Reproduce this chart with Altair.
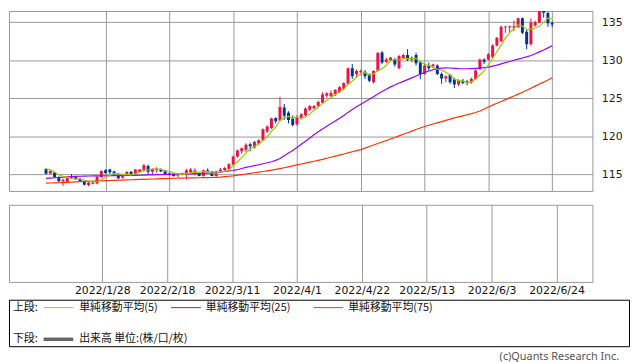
import altair as alt
import pandas as pd

# ---- data (USD/JPY daily candles) ----
dates = [f"{d.year}/{d.month}/{d.day}" for d in pd.bdate_range("2022-01-10", "2022-06-24")]

opens = [115.72, 115.10, 115.25, 114.65, 114.10, 114.05, 114.80, 114.65, 114.40, 114.10,
         113.60, 113.95, 113.80, 114.65, 115.55, 115.65, 115.40, 114.90, 114.55, 114.90,
         115.35, 115.10, 115.35, 115.55, 116.10, 115.35, 115.55, 115.65, 115.50, 114.95,
         115.10, 114.85, 115.05, 115.00, 115.25, 115.22, 115.20, 114.80, 115.55, 115.35,
         114.80, 115.40, 115.55, 115.70, 116.30, 117.35, 118.05, 118.25, 118.95, 118.55,
         119.05, 119.50, 120.65, 121.10, 122.40, 122.10, 123.80, 123.10, 122.35, 121.60,
         122.40, 122.80, 123.50, 123.70, 124.00, 124.40, 125.35, 125.30, 125.50, 125.80,
         126.25, 126.90, 128.95, 128.20, 128.45, 128.50, 128.10, 127.10, 128.60, 131.00,
         129.80, 130.00, 130.10, 128.95, 130.30, 130.70, 130.05, 130.70, 129.70, 128.20,
         129.35, 129.20, 129.30, 128.20, 127.60, 128.05, 127.50, 126.80, 127.30, 127.20,
         127.10, 127.50, 128.85, 130.10, 130.10, 130.40, 131.95, 132.50, 134.30, 134.35,
         134.30, 134.35, 135.50, 133.75, 132.10, 134.55, 134.95, 136.55, 136.20, 134.90]

highs = [115.80, 115.55, 115.30, 114.75, 114.45, 114.65, 115.05, 114.80, 114.55, 114.20,
         114.05, 114.05, 114.80, 115.55, 115.70, 115.75, 115.50, 115.00, 114.90, 115.40,
         115.45, 115.70, 115.70, 116.35, 116.30, 115.80, 115.95, 115.80, 115.55, 115.25,
         115.15, 115.20, 115.20, 115.75, 115.85, 115.80, 115.30, 115.65, 115.80, 115.45,
         115.50, 115.85, 116.00, 116.50, 117.45, 118.25, 118.55, 119.10, 119.15, 119.40,
         119.60, 121.05, 121.45, 122.45, 122.50, 125.20, 124.25, 123.30, 122.75, 122.80,
         123.05, 123.80, 124.10, 124.10, 124.70, 125.80, 125.80, 126.05, 126.20, 126.60,
         127.10, 129.05, 129.50, 128.80, 128.80, 128.70, 128.25, 128.70, 131.10, 131.20,
         130.30, 130.40, 130.30, 130.70, 130.85, 131.45, 130.50, 131.00, 129.90, 129.55,
         129.70, 129.55, 129.45, 128.40, 128.00, 128.20, 127.70, 127.50, 127.55, 127.40,
         127.70, 128.80, 130.20, 130.25, 130.95, 132.10, 133.05, 134.55, 134.55, 134.55,
         135.20, 135.60, 135.60, 134.10, 135.50, 135.20, 136.70, 136.70, 136.35, 135.10]

lows = [115.00, 115.05, 114.55, 113.95, 113.50, 113.95, 114.40, 114.30, 114.00, 113.55,
        113.45, 113.70, 113.70, 114.55, 115.10, 115.05, 114.90, 114.40, 114.45, 114.80,
        114.95, 115.00, 115.25, 115.35, 114.98, 115.00, 115.25, 115.30, 114.90, 114.80,
        114.70, 114.65, 114.90, 114.35, 115.15, 114.85, 114.75, 114.70, 115.30, 114.75,
        114.70, 115.30, 115.40, 115.55, 116.20, 117.20, 117.70, 117.95, 118.05, 118.40,
        118.85, 119.40, 120.45, 120.95, 121.70, 122.00, 122.15, 121.70, 121.30, 121.40,
        122.20, 122.60, 123.30, 123.50, 123.85, 124.30, 125.10, 124.95, 125.30, 125.70,
        126.10, 126.80, 127.55, 127.70, 128.00, 127.55, 127.10, 126.95, 128.50, 129.50,
        129.60, 129.90, 129.15, 128.80, 130.20, 129.90, 129.75, 129.30, 127.50, 128.10,
        128.60, 128.90, 128.05, 126.90, 127.10, 126.90, 126.35, 126.60, 126.85, 126.70,
        126.90, 127.40, 128.70, 129.50, 129.95, 130.30, 131.80, 132.40, 133.60, 133.60,
        133.80, 134.20, 133.40, 131.45, 131.90, 134.40, 134.85, 135.60, 134.40, 134.35]

closes = [115.10, 115.45, 114.65, 114.10, 114.30, 114.60, 114.60, 114.40, 114.10, 113.65,
          113.95, 113.80, 114.70, 115.45, 115.20, 115.30, 115.10, 114.50, 114.75, 115.35,
          115.05, 115.65, 115.65, 116.20, 115.35, 115.70, 115.75, 115.40, 114.95, 115.15,
          114.80, 115.05, 114.95, 115.55, 115.65, 115.52, 114.80, 115.55, 115.35, 114.80,
          115.40, 115.65, 115.85, 116.35, 117.35, 118.15, 118.45, 118.90, 118.70, 119.25,
          119.50, 120.95, 121.30, 122.35, 122.00, 123.85, 122.70, 122.15, 121.50, 122.55,
          122.90, 123.65, 124.00, 124.00, 124.50, 125.50, 125.65, 125.70, 126.10, 126.45,
          127.00, 128.95, 127.90, 128.60, 128.60, 127.90, 127.30, 128.60, 130.95, 129.70,
          130.10, 130.35, 129.45, 130.55, 130.70, 130.10, 130.35, 129.60, 128.20, 129.30,
          128.95, 129.45, 128.20, 127.60, 127.90, 127.10, 126.80, 127.40, 127.00, 127.00,
          127.55, 128.65, 130.10, 129.80, 130.80, 131.95, 132.95, 134.40, 134.40, 134.45,
          134.45, 135.50, 133.60, 132.10, 134.95, 135.00, 136.60, 136.25, 134.85, 134.70]

ma5 = [115.74, 115.61, 115.32, 114.97, 114.72, 114.62, 114.45, 114.40, 114.40, 114.27,
       114.14, 113.98, 114.04, 114.31, 114.62, 114.89, 115.15, 115.11, 114.97, 115.00,
       114.95, 115.06, 115.29, 115.58, 115.58, 115.71, 115.73, 115.68, 115.43, 115.39,
       115.21, 115.07, 114.98, 115.10, 115.20, 115.34, 115.29, 115.41, 115.37, 115.20,
       115.18, 115.35, 115.41, 115.61, 116.12, 116.67, 117.23, 117.84, 118.31, 118.69,
       118.96, 119.46, 119.94, 120.67, 121.22, 122.09, 122.44, 122.61, 122.44, 122.55,
       122.36, 122.55, 122.92, 123.42, 123.81, 124.33, 124.73, 125.07, 125.49, 125.88,
       126.18, 126.84, 127.28, 127.78, 128.21, 128.39, 128.06, 128.20, 128.67, 128.89,
       129.33, 129.94, 130.11, 130.03, 130.23, 130.23, 130.23, 130.26, 129.79, 129.51,
       129.28, 129.10, 128.82, 128.70, 128.42, 128.05, 127.52, 127.36, 127.24, 127.06,
       127.15, 127.52, 128.06, 128.62, 129.38, 130.26, 131.12, 131.98, 132.90, 133.63,
       134.13, 134.64, 134.48, 134.02, 134.12, 134.23, 134.45, 134.98, 135.53, 135.48]

ma25 = [114.48, 114.52, 114.56, 114.60, 114.64, 114.68, 114.71, 114.74, 114.76, 114.78,
        114.79, 114.80, 114.80, 114.81, 114.82, 114.83, 114.84, 114.85, 114.85, 114.86,
        114.87, 114.88, 114.89, 114.91, 114.93, 114.95, 114.97, 114.98, 115.00, 115.01,
        115.02, 115.03, 115.04, 115.06, 115.08, 115.10, 115.12, 115.15, 115.18, 115.21,
        115.25, 115.30, 115.38, 115.45, 115.52, 115.62, 115.78, 115.92, 116.04, 116.15,
        116.27, 116.40, 116.53, 116.67, 116.85, 117.10, 117.45, 117.80, 118.15, 118.55,
        118.95, 119.35, 119.78, 120.20, 120.60, 120.98, 121.33, 121.68, 122.03, 122.38,
        122.75, 123.15, 123.52, 123.88, 124.22, 124.55, 124.88, 125.20, 125.55, 125.88,
        126.20, 126.50, 126.75, 127.00, 127.22, 127.45, 127.68, 127.92, 128.15, 128.38,
        128.58, 128.75, 128.88, 128.96, 129.00, 128.98, 128.94, 128.90, 128.88, 128.88,
        128.90, 128.93, 128.97, 129.02, 129.10, 129.22, 129.36, 129.52, 129.68, 129.84,
        130.00, 130.15, 130.30, 130.45, 130.62, 130.85, 131.10, 131.35, 131.62, 131.90]

ma75 = [113.85, 113.87, 113.89, 113.91, 113.93, 113.96, 113.99, 114.02, 114.05, 114.08,
        114.10, 114.12, 114.14, 114.16, 114.18, 114.20, 114.22, 114.24, 114.26, 114.28,
        114.30, 114.32, 114.34, 114.36, 114.38, 114.40, 114.42, 114.44, 114.46, 114.48,
        114.50, 114.51, 114.52, 114.53, 114.54, 114.55, 114.56, 114.57, 114.58, 114.60,
        114.62, 114.65, 114.70, 114.76, 114.82, 114.90, 114.98, 115.06, 115.14, 115.22,
        115.30, 115.38, 115.47, 115.56, 115.66, 115.77, 115.88, 116.00, 116.12, 116.25,
        116.37, 116.49, 116.61, 116.73, 116.85, 116.98, 117.12, 117.26, 117.40, 117.54,
        117.68, 117.83, 117.98, 118.12, 118.26, 118.46, 118.66, 118.86, 119.06, 119.26,
        119.46, 119.66, 119.85, 120.06, 120.27, 120.48, 120.69, 120.90, 121.10, 121.30,
        121.46, 121.62, 121.78, 121.94, 122.10, 122.26, 122.42, 122.56, 122.70, 122.84,
        122.98, 123.14, 123.34, 123.60, 123.86, 124.10, 124.34, 124.58, 124.82, 125.06,
        125.30, 125.55, 125.80, 126.05, 126.32, 126.60, 126.87, 127.12, 127.40, 127.70]

tick_labels = ["2022/1/28", "2022/2/18", "2022/3/11", "2022/4/1",
               "2022/4/22", "2022/5/13", "2022/6/3", "2022/6/24"]
y_ticks = [115, 120, 125, 130, 135]

ma_names = ["単純移動平均(5)", "単純移動平均(25)", "単純移動平均(75)"]
ma_colors = ["#99cc00", "#9900ff", "#ff3300"]
up_color = "#ee1144"
down_color = "#003399"
grid_color = "#999999"

# ---- tables ----
df = pd.DataFrame({
    "i": list(range(len(dates))), "date": dates,
    "open": opens, "high": highs, "low": lows, "close": closes,
    "ma5": ma5, "ma25": ma25, "ma75": ma75,
})
tick_idx = [dates.index(t) for t in tick_labels]
label_expr = " : ".join(f"datum.value == {i} ? '{t}'" for i, t in zip(tick_idx, tick_labels)) + " : ''"

x_scale = alt.Scale(domain=[-7.55, 127.3], nice=False, zero=False)
y_scale = alt.Scale(domain=[112.83, 136.47], nice=False, zero=False)

candle_color = alt.condition("datum.close >= datum.open", alt.value(up_color), alt.value(down_color))

x_upper = alt.X("i:Q", scale=x_scale,
                axis=alt.Axis(values=tick_idx, labels=False, ticks=False, domain=False,
                              grid=True, gridColor=grid_color, gridWidth=1, title=None))
y_upper = alt.Y("low:Q", scale=y_scale,
                axis=alt.Axis(orient="right", values=y_ticks, grid=True, gridColor=grid_color,
                              gridWidth=1, ticks=False, domain=False, labelPadding=9,
                              labelFont="DejaVu Sans", labelFontSize=11, labelColor="#222222",
                              title=None))

base = alt.Chart(df)
wicks = base.mark_rule(strokeWidth=1, clip=True).encode(
    x=x_upper, y=y_upper, y2="high:Q", color=candle_color)
bodies = base.mark_bar(size=3, clip=True).encode(
    x="i:Q", y="open:Q", y2="close:Q", color=candle_color)

lines = []
for col, color in zip(["ma75", "ma25", "ma5"], [ma_colors[2], ma_colors[1], ma_colors[0]]):
    lines.append(base.mark_line(strokeWidth=1.2, color=color, clip=True).encode(
        x="i:Q", y=alt.Y(f"{col}:Q", scale=y_scale)))

upper = alt.layer(wicks, bodies, *lines).properties(
    width=590, height=182,
    view=alt.ViewBackground(stroke=grid_color, strokeWidth=1))

# lower (volume) panel: FX has no volume, only the frame and the date axis
lower = base.mark_rule(opacity=0).encode(
    x=alt.X("i:Q", scale=x_scale,
            axis=alt.Axis(values=tick_idx, labelExpr=label_expr, grid=True, gridColor=grid_color,
                          gridWidth=1, ticks=False, domain=False, labelPadding=3,
                          labelFont="DejaVu Sans", labelFontSize=11, labelColor="#111111",
                          labelOverlap=False, labelFlush=False, labelBound=False, title=None))
).properties(width=590, height=78,
             view=alt.ViewBackground(stroke=grid_color, strokeWidth=1))

# legend box
one = alt.Chart(alt.Data(values=[{"k": 1}]))
cjk = "Noto Sans CJK JP"


def leg_text(txt, x, y):
    return one.mark_text(align="left", baseline="middle", font=cjk, fontSize=11,
                         color="#111111").encode(x=alt.value(x), y=alt.value(y), text=alt.value(txt))


def leg_line(x1, x2, y, color, w):
    return one.mark_rule(color=color, strokeWidth=w).encode(
        x=alt.value(x1), x2=alt.value(x2), y=alt.value(y))


legend = alt.layer(
    leg_text("上段:", 4, 8),
    leg_line(35, 65, 8, ma_colors[0], 1), leg_text(ma_names[0], 71, 8),
    leg_line(164, 194, 8, ma_colors[1], 1), leg_text(ma_names[1], 199, 8),
    leg_line(308, 338, 8, ma_colors[2], 1), leg_text(ma_names[2], 343, 8),
    leg_text("下段:", 4, 40),
    leg_line(35, 65, 40, "#666666", 3.5), leg_text("出来高 単位:(株/口/枚)", 71, 40),
    one.mark_text(align="right", baseline="middle", font="Noto Sans", fontSize=11,
                  color="#555555").encode(x=alt.value(617), y=alt.value(58),
                                          text=alt.value("(c)Quants Research Inc.")),
).properties(width=627, height=47,
             view=alt.ViewBackground(stroke="#000000", strokeWidth=1))

chart = alt.vconcat(
    upper,
    alt.vconcat(lower, legend, spacing=2),
    spacing=12,
).properties(padding=0, background="white")

chart.save("out.html", embed_options={"renderer": "svg", "actions": False})
